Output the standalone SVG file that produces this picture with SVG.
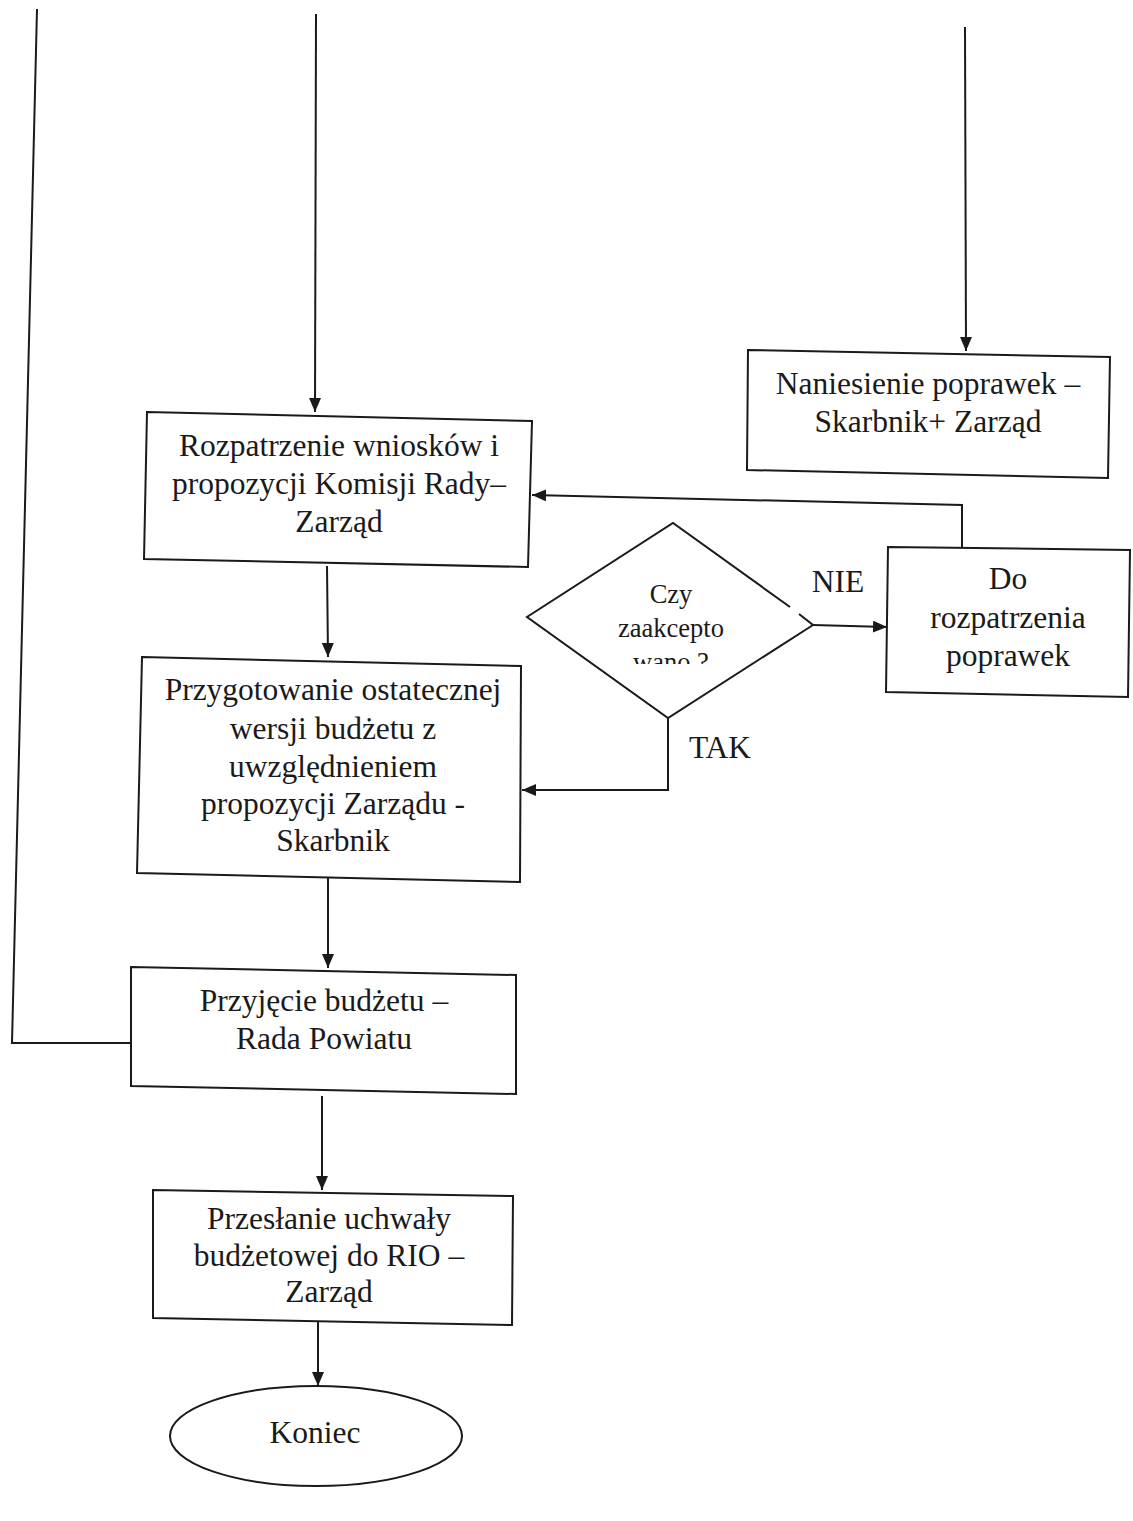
<svg xmlns="http://www.w3.org/2000/svg" width="1133" height="1521" viewBox="0 0 1133 1521">
<style>
.box{fill:#fff;stroke:#1a1a1a;stroke-width:2}
.ln{fill:none;stroke:#1a1a1a;stroke-width:2}
.t{font-family:"Liberation Serif","Times New Roman",serif;font-size:31.5px;fill:#1a1a1a;text-anchor:middle}
.s{font-family:"Liberation Serif","Times New Roman",serif;font-size:26.5px;fill:#1a1a1a;text-anchor:middle}
</style>
<defs>
<marker id="ah" markerWidth="14" markerHeight="12" refX="14" refY="6" orient="auto" markerUnits="userSpaceOnUse">
<path d="M0,0 L14,6 L0,12 Z" fill="#1a1a1a"/>
</marker>
<clipPath id="dclip"><rect x="520" y="500" width="300" height="164"/></clipPath>
</defs>
<rect width="1133" height="1521" fill="#fff"/>
<g id="connectors">
<polyline class="ln" points="37,9 12,1043 131,1043"/>
<line class="ln" x1="316" y1="14" x2="315" y2="412" marker-end="url(#ah)"/>
<line class="ln" x1="965" y1="27" x2="966" y2="351" marker-end="url(#ah)"/>
<line class="ln" x1="327" y1="566" x2="328" y2="657" marker-end="url(#ah)"/>
<polyline class="ln" points="962,548 962,505 532,495" marker-end="url(#ah)"/>
<line class="ln" x1="813" y1="625" x2="887" y2="627" marker-end="url(#ah)"/>
<polyline class="ln" points="668,718 668,790 522,790" marker-end="url(#ah)"/>
<line class="ln" x1="328" y1="877" x2="328" y2="968" marker-end="url(#ah)"/>
<line class="ln" x1="322" y1="1096" x2="322" y2="1190" marker-end="url(#ah)"/>
<line class="ln" x1="318" y1="1318" x2="318" y2="1386" marker-end="url(#ah)"/>
</g>
<g id="n_naniesienie">
<polygon class="box" points="748,350 1110,357 1108,478 747,470"/>
<text class="t" x="928" y="394">Naniesienie poprawek –</text>
<text class="t" x="928" y="432">Skarbnik+ Zarząd</text>
</g>
<g id="n_rozpatrzenie">
<polygon class="box" points="147,412 532,421 528,567 144,559"/>
<text class="t" x="339" y="456">Rozpatrzenie wniosków i</text>
<text class="t" x="339" y="494">propozycji Komisji Rady–</text>
<text class="t" x="339" y="532">Zarząd</text>
</g>
<g id="n_decyzja">
<path class="ln" d="M790,607 L673,523 L527,617 L668,718 L813,625 L799,614"/>
<g clip-path="url(#dclip)">
<text class="s" x="671" y="603">Czy</text>
<text class="s" x="671" y="637">zaakcepto</text>
<text class="s" x="671" y="671">wano ?</text>
</g>
<text class="t" x="838" y="592">NIE</text>
<text class="t" x="720" y="758">TAK</text>
</g>
<g id="n_do_rozpatrzenia">
<polygon class="box" points="888,547 1130,550 1128,697 886,692"/>
<text class="t" x="1008" y="589">Do</text>
<text class="t" x="1008" y="628">rozpatrzenia</text>
<text class="t" x="1008" y="666">poprawek</text>
</g>
<g id="n_przygotowanie">
<polygon class="box" points="142,657 521,666 520,882 137,873"/>
<text class="t" x="333" y="700">Przygotowanie ostatecznej</text>
<text class="t" x="333" y="739">wersji budżetu z</text>
<text class="t" x="333" y="777">uwzględnieniem</text>
<text class="t" x="333" y="814">propozycji Zarządu -</text>
<text class="t" x="333" y="851">Skarbnik</text>
</g>
<g id="n_przyjecie">
<polygon class="box" points="131,967 516,975 516,1094 131,1086"/>
<text class="t" x="324" y="1011">Przyjęcie budżetu –</text>
<text class="t" x="324" y="1049">Rada Powiatu</text>
</g>
<g id="n_przeslanie">
<polygon class="box" points="153,1190 513,1196 512,1325 153,1318"/>
<text class="t" x="329" y="1229">Przesłanie uchwały</text>
<text class="t" x="329" y="1266">budżetowej do RIO –</text>
<text class="t" x="329" y="1302">Zarząd</text>
</g>
<g id="n_koniec">
<ellipse class="box" cx="316" cy="1436" rx="146" ry="50"/>
<text class="t" x="315" y="1443">Koniec</text>
</g>
</svg>
